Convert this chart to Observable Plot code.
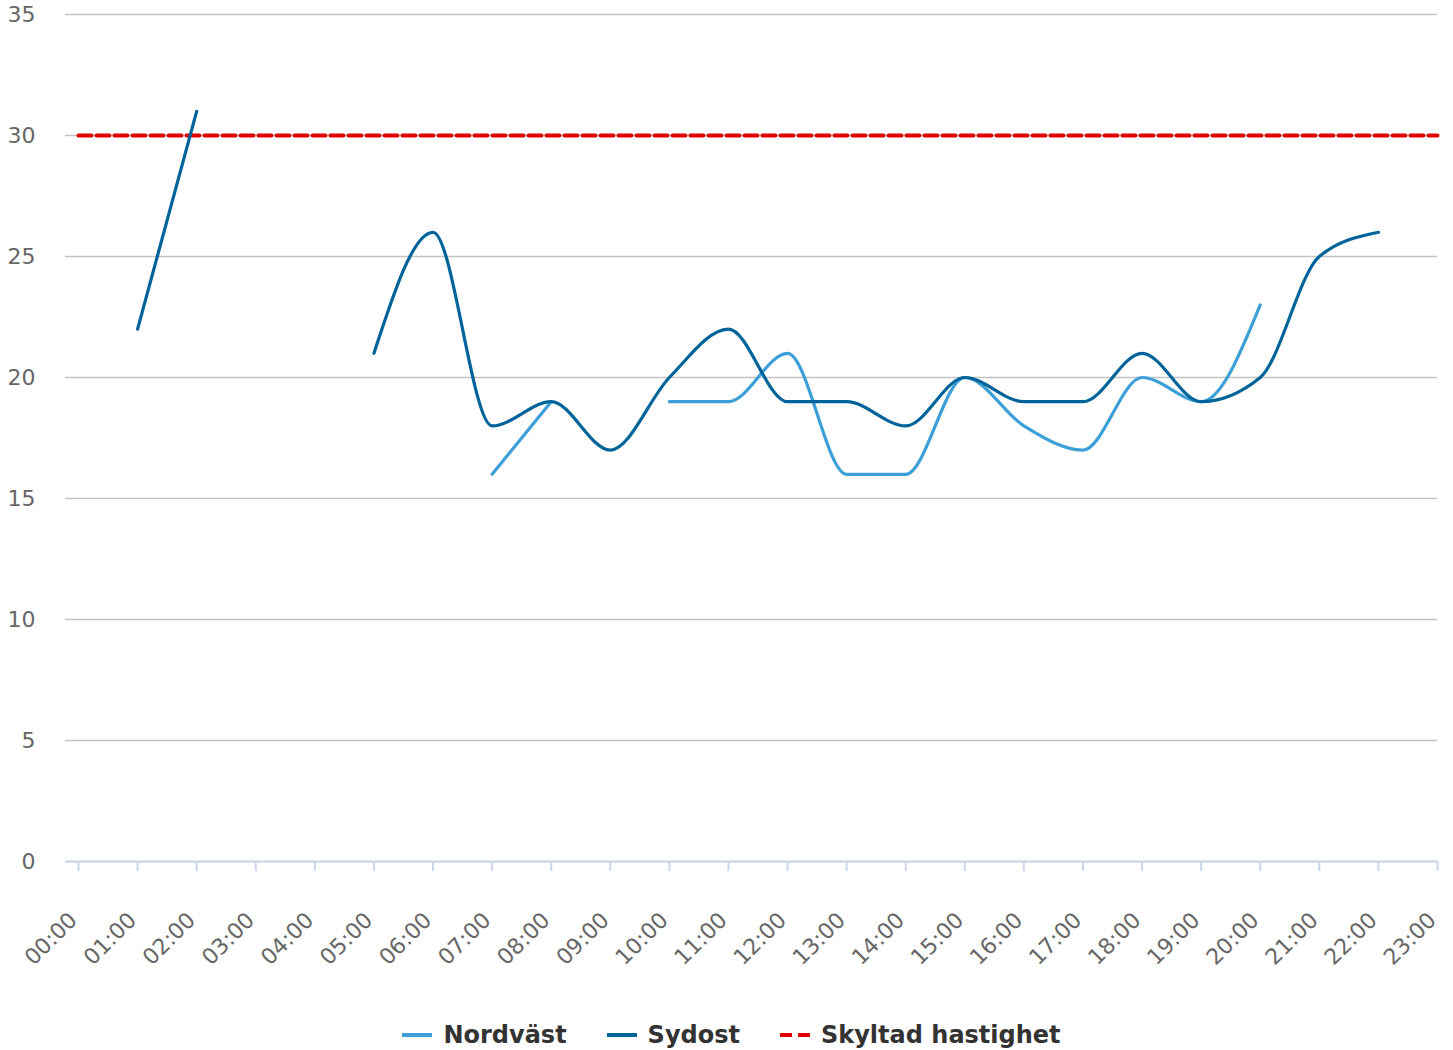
<!DOCTYPE html>
<html>
<head>
<meta charset="utf-8">
<script src="https://cdn.jsdelivr.net/npm/d3@7"></script>
<script src="https://cdn.jsdelivr.net/npm/@observablehq/plot@0.6"></script>
<style>
  html, body { margin: 0; padding: 0; background: #fff; }
  body { width: 1453px; font-family: "DejaVu Sans", sans-serif; }
  #legend { display: flex; justify-content: center; align-items: center; height: 30px; margin-top: 20px; padding-left: 10px;
            font-weight: bold; font-size: 24px; color: #333; }
  .item { display: flex; align-items: center; margin: 0 20px; }
  .item svg { margin-right: 11px; }
</style>
</head>
<body>
<div id="chart"></div>
<div id="legend"></div>
<script>
const hours = ["00:00","01:00","02:00","03:00","04:00","05:00","06:00","07:00","08:00","09:00","10:00","11:00",
               "12:00","13:00","14:00","15:00","16:00","17:00","18:00","19:00","20:00","21:00","22:00","23:00"];
const nordvast = [null,null,null,null,null,null,null,16,19,null,19,19,21,16,16,20,18,17,20,19,23,null,null,null];
const sydost   = [null,22,31,null,null,21,26,18,19,17,20,22,19,19,18,20,19,19,21,19,20,25,26,null];
const skyltad  = [30,30,30,30,30,30,30,30,30,30,30,30,30,30,30,30,30,30,30,30,30,30,30,30];
const yTicks = [0,5,10,15,20,25,30,35];

const seriesNames = ["Nordväst", "Sydost", "Skyltad hastighet"];
const colors = ["#3c9fd7", "#00649a", "#e00000"];

const idx = hours.map((h, i) => i);
const rowsN = idx.map(i => ({i, v: nordvast[i]}));
const rowsS = idx.map(i => ({i, v: sydost[i]}));
const rowsR = idx.map(i => ({i, v: skyltad[i]}));

const chart = Plot.plot({
  width: 1453,
  height: 1000,
  marginLeft: 65,
  marginRight: 16,
  marginTop: 14,
  marginBottom: 139,
  style: { fontFamily: "DejaVu Sans, sans-serif", background: "#fff" },
  x: { type: "linear", domain: [-0.22, 23], axis: null, label: null },
  y: { domain: [0, 35], axis: null, label: null },
  marks: [
    Plot.gridY(yTicks, { stroke: "#c4c4c4", strokeOpacity: 1, strokeWidth: 1.5 }),
    Plot.axisY(yTicks, { tickSize: 0, tickPadding: 30, fontSize: 22, fill: "#666", label: null, tickFormat: d => String(d) }),
    Plot.ruleY([0], { stroke: "#ccd6eb", strokeWidth: 2 }),
    Plot.axisX(idx, { tickSize: 10, stroke: "#ccd6eb", strokeWidth: 2, label: null, tickFormat: () => "" }),
    Plot.text(idx, { x: d => d, y: 0, text: d => hours[d], rotate: -45, textAnchor: "end", lineAnchor: "bottom",
                     dy: 60, dx: 0, fontSize: 22, fill: "#666" }),
    Plot.line(rowsR, { x: "i", y: "v", stroke: colors[2], strokeWidth: 4, strokeDasharray: "13,5" }),
    Plot.line(rowsN, { x: "i", y: "v", stroke: colors[0], strokeWidth: 3.2, curve: "monotone-x", strokeLinecap: "round" }),
    Plot.line(rowsS, { x: "i", y: "v", stroke: colors[1], strokeWidth: 3.2, curve: "monotone-x", strokeLinecap: "round" })
  ]
});
document.getElementById("chart").appendChild(chart);

const legend = document.getElementById("legend");
seriesNames.forEach((name, k) => {
  const item = document.createElement("div");
  item.className = "item";
  const dash = k === 2 ? 'stroke-dasharray="12,6"' : '';
  item.innerHTML = `<svg width="30" height="10"><line x1="0" x2="30" y1="5" y2="5" stroke="${colors[k]}" stroke-width="4" ${dash}/></svg><span>${name}</span>`;
  legend.appendChild(item);
});
</script>
</body>
</html>
